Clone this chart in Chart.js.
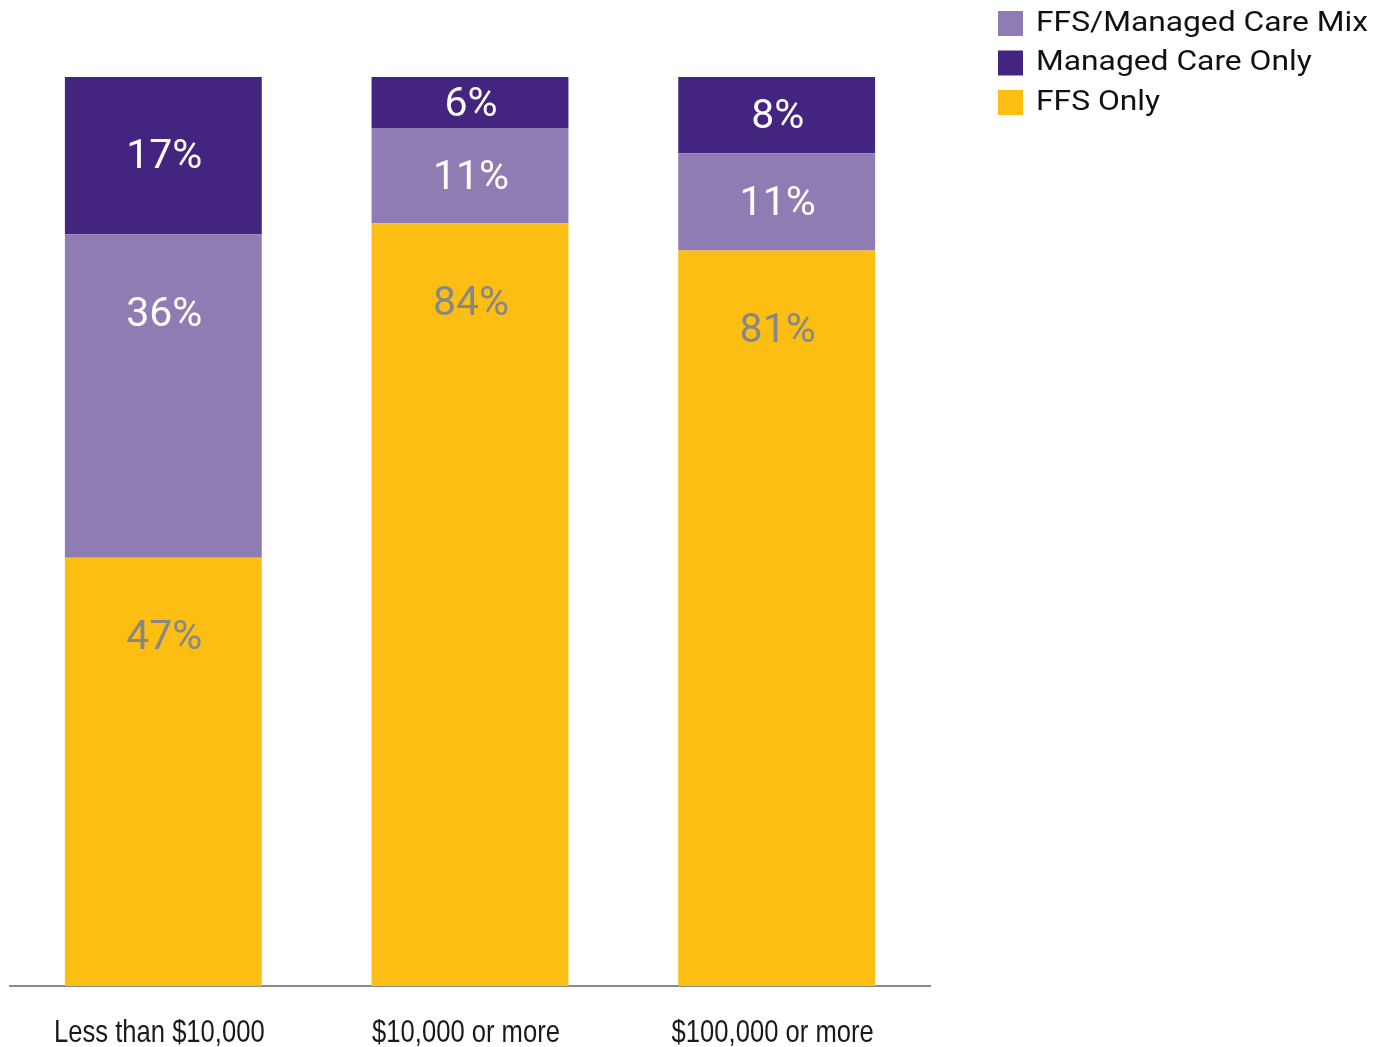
<!DOCTYPE html>
<html>
<head>
<meta charset="utf-8">
<script src="https://cdn.jsdelivr.net/npm/chart.js@4/dist/chart.umd.min.js"></script>
<style>
  html, body { margin: 0; padding: 0; background: #fff; }
  #wrap { width: 1374px; height: 1047px; position: relative; }
</style>
</head>
<body>
<div id="wrap"><canvas id="chart"></canvas></div>
<script>
// categories and series (plotted shares)
var categories = ["Less than $10,000", "$10,000 or more", "$100,000 or more"];
var ffsOnly = [47.1, 83.9, 80.9];
var ffsMix = [35.6, 10.5, 10.7];
var managedOnly = [17.3, 5.6, 8.5];
// printed labels
var ffsOnlyLabels = ["47%", "84%", "81%"];
var ffsMixLabels = ["36%", "11%", "11%"];
var managedOnlyLabels = ["17%", "6%", "8%"];

var YELLOW = "#fcbe12", MIX = "#8e7cb3", DARK = "#43257f";

// draws percentage labels inside each segment
var segmentLabels = {
  id: "segmentLabels",
  afterDatasetsDraw: function(chart) {
    var ctx = chart.ctx;
    ctx.save();
    ctx.font = "400 41px Roboto, 'Liberation Sans', sans-serif";
    ctx.textAlign = "center";
    ctx.textBaseline = "middle";
    chart.data.datasets.forEach(function(ds, di) {
      var meta = chart.getDatasetMeta(di);
      meta.data.forEach(function(bar, i) {
        var top = Math.min(bar.y, bar.base);
        var bottom = Math.max(bar.y, bar.base);
        var y = Math.min((top + bottom) / 2, top + 78);
        ctx.fillStyle = ds.labelColor;
        ctx.fillText(ds.printed[i], bar.x + 1, y + 3);
      });
    });
    ctx.restore();
  }
};

// condensed category labels under the axis
var categoryLabels = {
  id: "categoryLabels",
  afterDraw: function(chart) {
    var ctx = chart.ctx;
    var xs = chart.scales.x;
    ctx.save();
    ctx.font = "32px 'Liberation Sans', Arial, sans-serif";
    ctx.textBaseline = "middle";
    ctx.textAlign = "center";
    ctx.fillStyle = "#1a1a1a";
    chart.data.labels.forEach(function(lab, i) {
      var x = xs.getPixelForTick(i);
      ctx.save();
      ctx.translate(x - 4, chart.chartArea.bottom + 47);
      ctx.scale(0.8, 1);
      ctx.fillText(lab, 0, 0);
      ctx.restore();
    });
    ctx.restore();
  }
};

// legend in the top right corner
var cornerLegend = {
  id: "cornerLegend",
  afterDraw: function(chart) {
    var ctx = chart.ctx;
    var order = [1, 2, 0];
    ctx.save();
    ctx.font = "400 28px Roboto, 'Liberation Sans', sans-serif";
    ctx.textBaseline = "middle";
    ctx.textAlign = "left";
    var sx = 332 / ctx.measureText(chart.data.datasets[1].label).width;
    order.forEach(function(di, k) {
      var ds = chart.data.datasets[di];
      var cy = 23.5 + k * 39.5;
      ctx.fillStyle = ds.backgroundColor;
      ctx.fillRect(998, cy - 12.5, 25, 25);
      ctx.fillStyle = "#111111";
      ctx.save();
      ctx.translate(1036, cy);
      ctx.scale(sx, 1);
      ctx.fillText(ds.label, 0, 0);
      ctx.restore();
    });
    ctx.restore();
  }
};

new Chart(document.getElementById("chart"), {
  type: "bar",
  data: {
    labels: categories,
    datasets: [
      { label: "FFS Only", data: ffsOnly, backgroundColor: YELLOW, printed: ffsOnlyLabels, labelColor: "#878787" },
      { label: "FFS/Managed Care Mix", data: ffsMix, backgroundColor: MIX, printed: ffsMixLabels, labelColor: "#ffffff" },
      { label: "Managed Care Only", data: managedOnly, backgroundColor: DARK, printed: managedOnlyLabels, labelColor: "#ffffff" }
    ]
  },
  options: {
    responsive: true,
    maintainAspectRatio: false,
    animation: false,
    layout: { padding: { left: 10, right: 444, top: 77, bottom: 61 } },
    datasets: { bar: { categoryPercentage: 1, barPercentage: 0.642, borderWidth: 0 } },
    plugins: { legend: { display: false }, tooltip: { enabled: false } },
    scales: {
      x: {
        stacked: true,
        grid: { display: false, drawTicks: false },
        border: { display: true, color: "#8a8a8a", width: 2 },
        ticks: { display: false }
      },
      y: { stacked: true, display: false, min: 0, max: 100 }
    }
  },
  plugins: [segmentLabels, categoryLabels, cornerLegend]
});
</script>
</body>
</html>
